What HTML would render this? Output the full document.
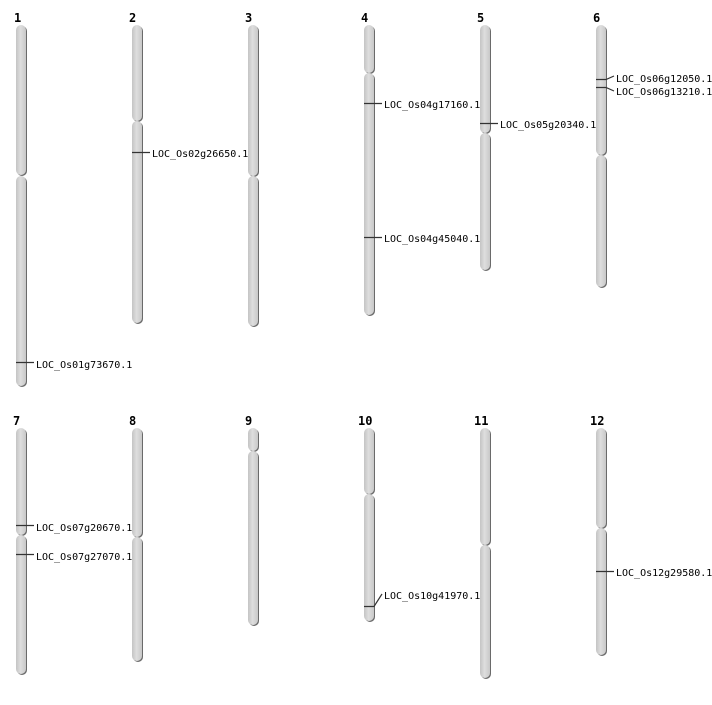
<!DOCTYPE html>
<html><head><meta charset="utf-8"><style>
body{margin:0;background:#fff;}
svg text{font-family:"DejaVu Sans Mono","Liberation Mono",monospace;font-size:10px;fill:#000;}
svg text.t{font-family:"DejaVu Sans Mono","Liberation Mono",monospace;font-weight:bold;font-size:12px;}
</style></head><body>
<svg width="712" height="700" viewBox="0 0 712 700" xmlns="http://www.w3.org/2000/svg">
<defs>
<linearGradient id="g" x1="0" x2="1" y1="0" y2="0">
<stop offset="0" stop-color="#c4c4c4"/><stop offset="0.45" stop-color="#dedede"/><stop offset="1" stop-color="#c8c8c8"/>
</linearGradient>
</defs>
<g stroke="none">
<g fill="#6a6a6a">
<rect x="17" y="26" width="10" height="150" rx="5"/><rect x="17" y="177" width="10" height="210" rx="5"/>
<rect x="133" y="26" width="10" height="96" rx="5"/><rect x="133" y="122" width="10" height="202" rx="5"/>
<rect x="249" y="26" width="10" height="151" rx="5"/><rect x="249" y="177" width="10" height="150" rx="5"/>
<rect x="365" y="26" width="10" height="48" rx="5"/><rect x="365" y="74" width="10" height="242" rx="5"/>
<rect x="481" y="26" width="10" height="108" rx="5"/><rect x="481" y="134" width="10" height="137" rx="5"/>
<rect x="597" y="26" width="10" height="130" rx="5"/><rect x="597" y="156" width="10" height="132" rx="5"/>
<rect x="17" y="429" width="10" height="107" rx="5"/><rect x="17" y="536" width="10" height="139" rx="5"/>
<rect x="133" y="429" width="10" height="109" rx="5"/><rect x="133" y="538" width="10" height="124" rx="5"/>
<rect x="249" y="429" width="10" height="23" rx="5"/><rect x="249" y="452" width="10" height="174" rx="5"/>
<rect x="365" y="429" width="10" height="66" rx="5"/><rect x="365" y="495" width="10" height="127" rx="5"/>
<rect x="481" y="429" width="10" height="117" rx="5"/><rect x="481" y="546" width="10" height="133" rx="5"/>
<rect x="597" y="429" width="10" height="100" rx="5"/><rect x="597" y="529" width="10" height="127" rx="5"/>
</g>
<g fill="url(#g)">
<rect x="16" y="25" width="10" height="150" rx="5"/><rect x="16" y="176" width="10" height="210" rx="5"/>
<rect x="132" y="25" width="10" height="96" rx="5"/><rect x="132" y="121" width="10" height="202" rx="5"/>
<rect x="248" y="25" width="10" height="151" rx="5"/><rect x="248" y="176" width="10" height="150" rx="5"/>
<rect x="364" y="25" width="10" height="48" rx="5"/><rect x="364" y="73" width="10" height="242" rx="5"/>
<rect x="480" y="25" width="10" height="108" rx="5"/><rect x="480" y="133" width="10" height="137" rx="5"/>
<rect x="596" y="25" width="10" height="130" rx="5"/><rect x="596" y="155" width="10" height="132" rx="5"/>
<rect x="16" y="428" width="10" height="107" rx="5"/><rect x="16" y="535" width="10" height="139" rx="5"/>
<rect x="132" y="428" width="10" height="109" rx="5"/><rect x="132" y="537" width="10" height="124" rx="5"/>
<rect x="248" y="428" width="10" height="23" rx="5"/><rect x="248" y="451" width="10" height="174" rx="5"/>
<rect x="364" y="428" width="10" height="66" rx="5"/><rect x="364" y="494" width="10" height="127" rx="5"/>
<rect x="480" y="428" width="10" height="117" rx="5"/><rect x="480" y="545" width="10" height="133" rx="5"/>
<rect x="596" y="428" width="10" height="100" rx="5"/><rect x="596" y="528" width="10" height="127" rx="5"/>
</g>
</g>
<g stroke="#333" stroke-width="1.2" fill="none">
<path d="M16 362.5H34"/>
<path d="M132 152.5H150"/>
<path d="M364 103.5H382"/><path d="M364 237.5H382"/>
<path d="M480 123.5H498"/>
<path d="M596 79.5H606L614 76"/><path d="M596 87.5H606L614 91"/>
<path d="M16 525.5H34"/><path d="M16 554.5H34"/>
<path d="M364 606.5H374L382 594"/>
<path d="M596 571.5H614"/>
</g>
<text class="t" x="14" y="22">1</text><text class="t" x="129" y="22">2</text><text class="t" x="245" y="22">3</text>
<text class="t" x="361" y="22">4</text><text class="t" x="477" y="22">5</text><text class="t" x="593" y="22">6</text>
<text class="t" x="13" y="425">7</text><text class="t" x="129" y="425">8</text><text class="t" x="245" y="425">9</text>
<text class="t" x="358" y="425">10</text><text class="t" x="474" y="425">11</text><text class="t" x="590" y="425">12</text>
<text x="36" y="368">LOC_Os01g73670.1</text>
<text x="152" y="157">LOC_Os02g26650.1</text>
<text x="384" y="108">LOC_Os04g17160.1</text>
<text x="384" y="242">LOC_Os04g45040.1</text>
<text x="500" y="128">LOC_Os05g20340.1</text>
<text x="616" y="82">LOC_Os06g12050.1</text>
<text x="616" y="95">LOC_Os06g13210.1</text>
<text x="36" y="531">LOC_Os07g20670.1</text>
<text x="36" y="560">LOC_Os07g27070.1</text>
<text x="384" y="599">LOC_Os10g41970.1</text>
<text x="616" y="576">LOC_Os12g29580.1</text>
</svg>
</body></html>
